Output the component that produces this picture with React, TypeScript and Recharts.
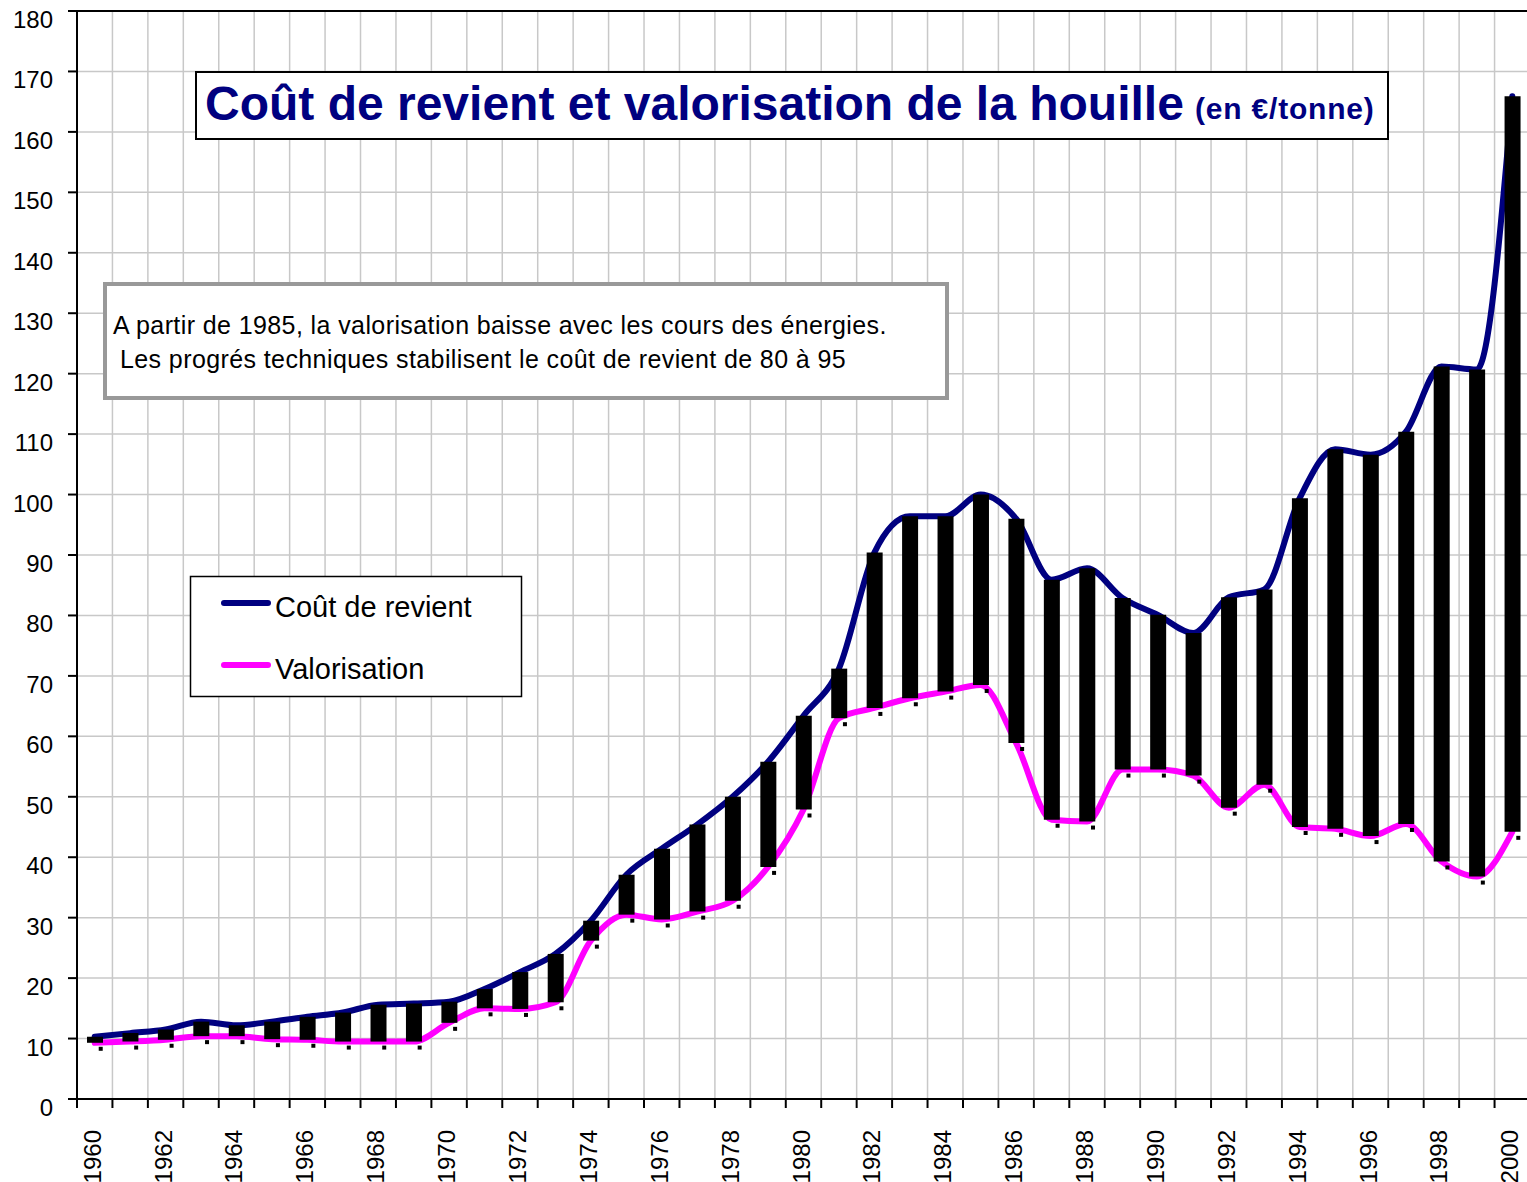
import { ComposedChart, Line, Bar, Scatter, XAxis, YAxis, CartesianGrid, ReferenceLine } from "recharts";

const years = [
  1960, 1961, 1962, 1963, 1964, 1965, 1966, 1967, 1968, 1969,
  1970, 1971, 1972, 1973, 1974, 1975, 1976, 1977, 1978, 1979,
  1980, 1981, 1982, 1983, 1984, 1985, 1986, 1987, 1988, 1989,
  1990, 1991, 1992, 1993, 1994, 1995, 1996, 1997, 1998, 1999, 2000,
];

// coût de revient (€/tonne)
const cout = [
  10.3, 10.9, 11.5, 12.8, 12.2, 12.8, 13.6, 14.3, 15.6, 15.8,
  16.1, 18.2, 21.0, 24.0, 29.5, 37.1, 41.4, 45.4, 50.0, 55.8,
  63.4, 71.2, 90.4, 96.4, 96.4, 100.0, 96.0, 85.9, 87.8, 82.9,
  80.1, 77.1, 83.0, 84.3, 99.4, 107.5, 106.6, 110.4, 121.2, 120.7, 165.9,
];

// valorisation (€/tonne)
const valorisation = [
  9.3, 9.5, 9.8, 10.4, 10.4, 9.9, 9.8, 9.5, 9.5, 9.5,
  12.6, 15.0, 14.9, 16.0, 26.2, 30.5, 29.7, 31.0, 32.8, 38.4,
  47.9, 63.0, 64.7, 66.3, 67.4, 68.5, 58.9, 46.2, 45.9, 54.5,
  54.5, 53.5, 48.2, 52.0, 45.0, 44.7, 43.5, 45.5, 39.3, 36.8, 44.2,
];

const yTicks = [0, 10, 20, 30, 40, 50, 60, 70, 80, 90, 100, 110, 120, 130, 140, 150, 160, 170, 180];
const xTickLabels = [
  "1960", "1962", "1964", "1966", "1968", "1970", "1972", "1974", "1976", "1978",
  "1980", "1982", "1984", "1986", "1988", "1990", "1992", "1994", "1996", "1998", "2000",
];

const data = years.map((year, i) => ({
  year,
  cout: cout[i],
  valorisation: valorisation[i],
  ecart: [valorisation[i], cout[i]],
}));

// limites entre les années (grille + graduations)
const bounds = [...years.map((y) => y - 0.5), years[years.length - 1] + 0.5];

const FONT = "'Liberation Sans', Arial, sans-serif";
const CHART_W = 1540;
const CHART_H = 1182;
const Y_AXIS_W = 77;
const M_RIGHT = 10;
const BAND = (CHART_W - Y_AXIS_W - M_RIGHT) / years.length;

const NAVY = "#000080";
const PINK = "#ff00ff";

const YearTick = (props: any) => {
  const { x, y, payload } = props;
  const label = String(payload.value + 0.5);
  if (!xTickLabels.includes(label)) return <g />;
  const cx = x + BAND / 2 + 6;
  return (
    <text
      transform={`translate(${cx},${y + 22}) rotate(-90)`}
      textAnchor="end"
      fontSize={24}
      fontFamily={FONT}
      fill="#000"
    >
      {label}
    </text>
  );
};

const ValueTick = (props: any) => {
  const { x, y, payload } = props;
  return (
    <text x={x} y={y + 17} textAnchor="end" fontSize={24} fontFamily={FONT} fill="#000">
      {payload.value}
    </text>
  );
};

// petit repère noir sous chaque barre (marqueur bas)
const LowMark = (props: any) => {
  const { cx, cy } = props;
  if (cx == null || cy == null) return <g />;
  return <rect x={cx + 4} y={cy + 4} width={4} height={4} fill="#000" />;
};

export default function App() {
  return (
    <div style={{ position: "absolute", left: 0, top: 0, width: 1527, height: 1182, overflow: "hidden", background: "#fff" }}>
      <ComposedChart
        width={CHART_W}
        height={CHART_H}
        data={data}
        margin={{ top: 11, right: M_RIGHT, bottom: 0, left: 0 }}
      >
        <CartesianGrid stroke="#c8c8c8" strokeWidth={1.5} />
        <XAxis
          type="number"
          dataKey="year"
          domain={[bounds[0], bounds[bounds.length - 1]]}
          ticks={bounds}
          interval={0}
          height={83}
          tick={<YearTick />}
          tickSize={9}
          tickMargin={0}
          axisLine={{ stroke: "#000", strokeWidth: 2 }}
          tickLine={{ stroke: "#000", strokeWidth: 2 }}
        />
        <YAxis
          domain={[0, 180]}
          ticks={yTicks}
          interval={0}
          width={Y_AXIS_W}
          tick={<ValueTick />}
          tickSize={9}
          tickMargin={15}
          axisLine={{ stroke: "#000", strokeWidth: 2 }}
          tickLine={{ stroke: "#000", strokeWidth: 2 }}
        />
        <ReferenceLine y={180} stroke="#000" strokeWidth={2} />
        <Line
          type="monotone"
          dataKey="cout"
          stroke={NAVY}
          strokeWidth={6}
          strokeLinecap="round"
          strokeLinejoin="round"
          dot={false}
          isAnimationActive={false}
        />
        <Line
          type="monotone"
          dataKey="valorisation"
          stroke={PINK}
          strokeWidth={6}
          strokeLinecap="round"
          strokeLinejoin="round"
          dot={false}
          isAnimationActive={false}
        />
        <Bar dataKey="ecart" fill="#000" barSize={16} isAnimationActive={false} zIndex={500} />
        <Scatter dataKey="valorisation" shape={<LowMark />} isAnimationActive={false} zIndex={600} />
      </ComposedChart>

      <svg
        width={1527}
        height={1182}
        style={{ position: "absolute", left: 0, top: 0, pointerEvents: "none" }}
      >
        <rect x={196} y={72} width={1192} height={67} fill="#fff" stroke="#000" strokeWidth={2} />
        <text x={205} y={120} fontSize={48} fontWeight="bold" fontFamily={FONT} fill={NAVY}>
          Coût de revient et valorisation de la houille
        </text>
        <text x={1195} y={119} fontSize={30} fontWeight="bold" fontFamily={FONT} fill={NAVY} letterSpacing={0.8}>
          (en €/tonne)
        </text>

        <rect x={105} y={284} width={842} height={114} fill="#fff" stroke="#999" strokeWidth={4} />
        <text x={113} y={334} fontSize={25} fontFamily={FONT} fill="#000" letterSpacing={0.4}>
          A partir de 1985, la valorisation baisse avec les cours des énergies.
        </text>
        <text x={120} y={368} fontSize={25} fontFamily={FONT} fill="#000" letterSpacing={0.4}>
          Les progrés techniques stabilisent le coût de revient de 80 à 95
        </text>

        <rect x={190.5} y={576.5} width={331} height={120} fill="#fff" stroke="#000" strokeWidth={1.5} />
        <line x1={224} y1={603} x2={268} y2={603} stroke={NAVY} strokeWidth={6} strokeLinecap="round" />
        <text x={275} y={617} fontSize={29} fontFamily={FONT} fill="#000">Coût de revient</text>
        <line x1={224} y1={665} x2={268} y2={665} stroke={PINK} strokeWidth={6} strokeLinecap="round" />
        <text x={275} y={679} fontSize={29} fontFamily={FONT} fill="#000">Valorisation</text>
      </svg>
    </div>
  );
}
